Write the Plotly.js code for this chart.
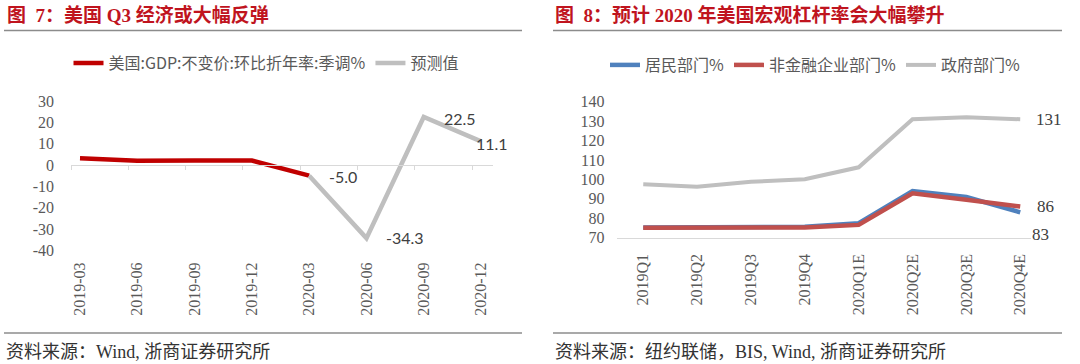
<!DOCTYPE html>
<html>
<head>
<meta charset="utf-8">
<script src="https://cdn.plot.ly/plotly-3.0.1.min.js"></script>
<style>
  html, body { margin: 0; padding: 0; background: #ffffff; }
  #chart { width: 1080px; height: 364px; }
</style>
</head>
<body>
<div id="chart"></div>
<script>
// ---------- Data: Figure 7 (US GDP) ----------
const gdpCategories = ['2019-03', '2019-06', '2019-09', '2019-12', '2020-03', '2020-06', '2020-09', '2020-12'];
const gdpActualCats = ['2019-03', '2019-06', '2019-09', '2019-12', '2020-03'];
const gdpActual = [3.1, 2.0, 2.1, 2.1, -5.0];
const gdpForecastCats = ['2020-03', '2020-06', '2020-09', '2020-12'];
const gdpForecast = [-5.0, -34.3, 22.5, 11.1];
const gdpForecastLabels = ['-5.0', '-34.3', '22.5', '11.1'];
const gdpTickVals = [30, 20, 10, 0, -10, -20, -30, -40];
const gdpTickText = ['30', '20', '10', '0', '-10', '-20', '-30', '-40'];
const gdpSeriesNames = ['美国:GDP:不变价:环比折年率:季调%', '预测值'];

// ---------- Data: Figure 8 (US leverage) ----------
const levCategories = ['2019Q1', '2019Q2', '2019Q3', '2019Q4', '2020Q1E', '2020Q2E', '2020Q3E', '2020Q4E'];
const household = [75.1, 75.2, 75.4, 75.6, 77.4, 94.0, 90.9, 83.0];
const nonFinCorp = [75.0, 75.1, 75.3, 75.2, 76.5, 92.8, 89.5, 86.0];
const government = [97.5, 96.2, 98.7, 100.1, 106.2, 131.0, 132.0, 131.0];
const levSeriesNames = ['居民部门%', '非金融企业部门%', '政府部门%'];
const levEndLabels = ['83', '86', '131'];
const levTickVals = [70, 80, 90, 100, 110, 120, 130, 140];

// ---------- Styling ----------
const W = 1080, H = 364;
const px = v => v / W;           // horizontal pixel -> paper fraction
const py = v => 1 - v / H;       // vertical pixel -> paper fraction
const SERIF = 'Liberation Serif, Noto Sans CJK SC, serif';
const CJK = 'Noto Sans CJK SC, sans-serif';
const TITLE_RED = '#c0141e';
const TICK_GREY = '#595959';
const LABEL_DARK = '#404040';
const AXIS_LIGHT = '#d9d9d9';

const traces = [
  { type: 'scatter', mode: 'lines', x: gdpActualCats, y: gdpActual, name: gdpSeriesNames[0],
    line: { color: '#c00000', width: 4.5 }, xaxis: 'x', yaxis: 'y', legend: 'legend', hoverinfo: 'skip' },
  { type: 'scatter', mode: 'lines', x: gdpForecastCats, y: gdpForecast, name: gdpSeriesNames[1],
    line: { color: '#bfbfbf', width: 4.5 }, xaxis: 'x', yaxis: 'y', legend: 'legend', hoverinfo: 'skip' },
  // empty helper trace so the zero-line axis (x2) gets drawn
  { type: 'scatter', mode: 'lines', x: [], y: [], xaxis: 'x2', yaxis: 'y', showlegend: false, hoverinfo: 'skip' },

  { type: 'scatter', mode: 'lines', x: levCategories, y: household, name: levSeriesNames[0],
    line: { color: '#4f81bd', width: 4.5 }, xaxis: 'x3', yaxis: 'y3', legend: 'legend2', hoverinfo: 'skip' },
  { type: 'scatter', mode: 'lines', x: levCategories, y: nonFinCorp, name: levSeriesNames[1],
    line: { color: '#c0504d', width: 4.5 }, xaxis: 'x3', yaxis: 'y3', legend: 'legend2', hoverinfo: 'skip' },
  { type: 'scatter', mode: 'lines', x: levCategories, y: government, name: levSeriesNames[2],
    line: { color: '#bfbfbf', width: 4 }, xaxis: 'x3', yaxis: 'y3', legend: 'legend2', hoverinfo: 'skip' }
];

// Left chart geometry (category index units)
const gdpRange = [-0.157, 7.2];
const boundaryTicks = gdpCategories.map((c, i) => i + gdpRange[0]);

// Data labels for the forecast series
const gdpLabelShift = [[34, -1], [39, 1], [36, -1], [11, -2]];
const gdpAnnotations = gdpForecastCats.map((c, i) => ({
  xref: 'x', yref: 'y', x: c, y: gdpForecast[i], text: gdpForecastLabels[i],
  showarrow: false, xanchor: 'center', yanchor: 'middle',
  xshift: gdpLabelShift[i][0], yshift: gdpLabelShift[i][1],
  font: { family: 'Lato, Liberation Sans, sans-serif', size: 16, color: LABEL_DARK }
}));

// End labels for leverage series
const lastIdx = levCategories.length - 1;
const levEndValues = [household[lastIdx], nonFinCorp[lastIdx], government[lastIdx]];
const levLabelShift = [[20, -22], [25, 0], [29, 0]];
const levAnnotations = levEndValues.map((v, i) => ({
  xref: 'x3', yref: 'y3', x: levCategories[lastIdx], y: v, text: levEndLabels[i],
  showarrow: false, xanchor: 'center', yanchor: 'middle',
  xshift: levLabelShift[i][0], yshift: levLabelShift[i][1],
  font: { family: SERIF, size: 17, color: LABEL_DARK }
}));

const textAnnotations = [
  { xref: 'paper', yref: 'paper', x: px(5), y: py(15.5), xanchor: 'left', yanchor: 'middle', showarrow: false,
    text: '图\u20027：美国 Q3 经济或大幅反弹', font: { family: SERIF, size: 19, color: TITLE_RED, weight: 'bold' } },
  { xref: 'paper', yref: 'paper', x: px(553), y: py(15.5), xanchor: 'left', yanchor: 'middle', showarrow: false,
    text: '图\u20028：预计 2020 年美国宏观杠杆率会大幅攀升', font: { family: SERIF, size: 19, color: TITLE_RED, weight: 'bold' } },
  { xref: 'paper', yref: 'paper', x: px(4), y: py(351.5), xanchor: 'left', yanchor: 'middle', showarrow: false,
    text: '资料来源：Wind, 浙商证券研究所', font: { family: SERIF, size: 18, color: '#333333' } },
  { xref: 'paper', yref: 'paper', x: px(553), y: py(351.5), xanchor: 'left', yanchor: 'middle', showarrow: false,
    text: '资料来源：纽约联储，BIS, Wind, 浙商证券研究所', font: { family: SERIF, size: 18, color: '#333333' } }
];

const ruleLine = (x0, x1, y) => ({
  type: 'line', xref: 'paper', yref: 'paper', x0: px(x0), x1: px(x1), y0: py(y), y1: py(y),
  line: { color: '#8c8c8c', width: 1.6 }
});

const layout = {
  width: W, height: H, autosize: false,
  margin: { l: 0, r: 0, t: 0, b: 0, pad: 0 },
  paper_bgcolor: '#ffffff', plot_bgcolor: 'rgba(0,0,0,0)',
  showlegend: true,
  hovermode: false,
  xaxis: {
    domain: [px(71), px(492.5)], anchor: 'y', type: 'category', categoryarray: gdpCategories,
    range: gdpRange, showline: false, showgrid: false, zeroline: false, ticks: '',
    tickangle: -90, ticklabelstandoff: 8,
    tickfont: { family: SERIF, size: 16, color: TICK_GREY }
  },
  xaxis2: {
    overlaying: 'x', anchor: 'free', position: py(165), type: 'linear', range: gdpRange,
    showline: true, linecolor: AXIS_LIGHT, linewidth: 1, showgrid: false, zeroline: false,
    tickmode: 'array', tickvals: boundaryTicks, ticks: 'outside', ticklen: 4, tickcolor: AXIS_LIGHT,
    tickwidth: 1, showticklabels: false
  },
  yaxis: {
    domain: [py(250.3), py(101)], anchor: 'x', range: [-40, 30],
    tickmode: 'array', tickvals: gdpTickVals, ticktext: gdpTickText,
    showline: false, showgrid: false, zeroline: false, ticks: '', ticklabelstandoff: 16,
    tickfont: { family: SERIF, size: 16, color: TICK_GREY }
  },
  xaxis3: {
    domain: [px(617.4), px(1031)], anchor: 'y3', type: 'category', categoryarray: levCategories,
    range: [-0.48, 7.2], showline: true, linecolor: AXIS_LIGHT, linewidth: 1, showgrid: false,
    zeroline: false, ticks: '', tickangle: -90, ticklabelstandoff: 9,
    tickfont: { family: SERIF, size: 16, color: TICK_GREY }
  },
  yaxis3: {
    domain: [py(237.5), py(101.8)], anchor: 'x3', range: [70, 140],
    tickmode: 'array', tickvals: levTickVals,
    showline: false, showgrid: false, zeroline: false, ticks: '', ticklabelstandoff: 12,
    tickfont: { family: SERIF, size: 16, color: TICK_GREY }
  },
  legend: {
    orientation: 'h', x: px(266), y: py(63), xanchor: 'center', yanchor: 'middle',
    font: { family: CJK, size: 16, color: TICK_GREY }, bgcolor: 'rgba(0,0,0,0)', itemclick: false
  },
  legend2: {
    orientation: 'h', x: px(815), y: py(65), xanchor: 'center', yanchor: 'middle',
    font: { family: CJK, size: 16, color: TICK_GREY }, bgcolor: 'rgba(0,0,0,0)', itemclick: false
  },
  annotations: [...textAnnotations, ...gdpAnnotations, ...levAnnotations],
  shapes: [ruleLine(4, 522, 30.5), ruleLine(553, 1062, 30.5), ruleLine(4, 522, 333), ruleLine(553, 1062, 333)]
};

Plotly.newPlot('chart', traces, layout, { staticPlot: true, displayModeBar: false });
</script>
</body>
</html>
